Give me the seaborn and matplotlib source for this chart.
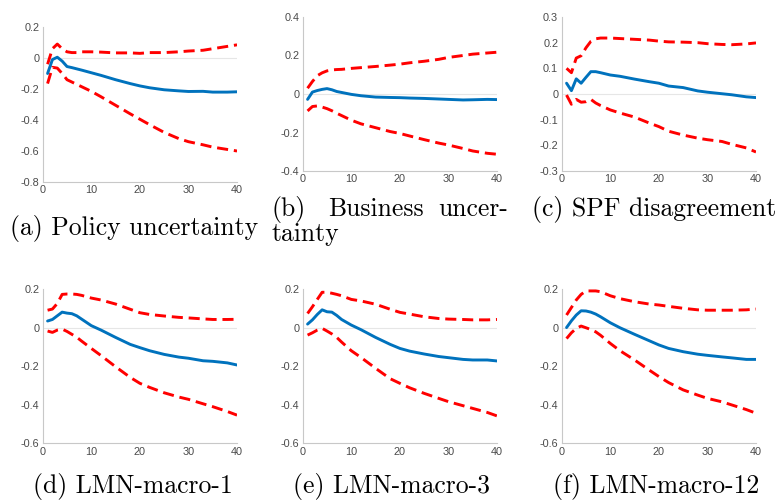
import numpy as np
import pandas as pd
import matplotlib
matplotlib.use("Agg")
import matplotlib.pyplot as plt
import seaborn as sns

# ---------------- data ----------------
horizon = [1, 2, 3, 4, 5, 6, 7, 8, 10, 12, 15, 18, 20, 22, 25, 28, 30, 33, 35, 38, 40]

a_irf = [-0.10, -0.01, 0.005, -0.02, -0.055, -0.062, -0.07, -0.078, -0.095, -0.112, -0.14, -0.165, -0.18, -0.192, -0.205, -0.212, -0.216, -0.215, -0.22, -0.22, -0.218]
a_hi = [-0.04, 0.06, 0.09, 0.06, 0.04, 0.035, 0.035, 0.04, 0.04, 0.038, 0.033, 0.033, 0.03, 0.035, 0.035, 0.04, 0.045, 0.05, 0.06, 0.075, 0.085]
a_lo = [-0.165, -0.06, -0.065, -0.10, -0.14, -0.155, -0.17, -0.185, -0.215, -0.25, -0.305, -0.36, -0.395, -0.43, -0.48, -0.52, -0.54, -0.56, -0.575, -0.59, -0.60]

b_irf = [-0.028, 0.01, 0.018, 0.024, 0.028, 0.022, 0.013, 0.008, -0.002, -0.009, -0.016, -0.018, -0.019, -0.021, -0.023, -0.026, -0.028, -0.031, -0.03, -0.028, -0.029]
b_hi = [0.03, 0.065, 0.095, 0.11, 0.12, 0.125, 0.127, 0.128, 0.133, 0.137, 0.143, 0.15, 0.155, 0.162, 0.17, 0.18, 0.19, 0.20, 0.207, 0.213, 0.217]
b_lo = [-0.088, -0.065, -0.062, -0.068, -0.076, -0.087, -0.10, -0.112, -0.136, -0.155, -0.175, -0.195, -0.205, -0.218, -0.237, -0.255, -0.265, -0.283, -0.296, -0.308, -0.313]

c_irf = [0.042, 0.013, 0.059, 0.042, 0.065, 0.087, 0.087, 0.083, 0.074, 0.069, 0.058, 0.048, 0.042, 0.031, 0.025, 0.012, 0.007, 0.001, -0.003, -0.011, -0.014]
c_hi = [0.10, 0.083, 0.14, 0.149, 0.18, 0.205, 0.215, 0.218, 0.218, 0.216, 0.213, 0.21, 0.206, 0.203, 0.202, 0.20, 0.196, 0.193, 0.192, 0.195, 0.199]
c_lo = [-0.004, -0.04, -0.021, -0.032, -0.03, -0.021, -0.035, -0.045, -0.062, -0.074, -0.09, -0.113, -0.127, -0.145, -0.16, -0.172, -0.178, -0.185, -0.196, -0.21, -0.226]

d_irf = [0.034, 0.042, 0.061, 0.08, 0.075, 0.072, 0.061, 0.044, 0.01, -0.013, -0.051, -0.087, -0.104, -0.12, -0.139, -0.153, -0.159, -0.172, -0.175, -0.183, -0.194]
d_hi = [0.09, 0.096, 0.125, 0.172, 0.174, 0.174, 0.172, 0.167, 0.153, 0.143, 0.122, 0.095, 0.077, 0.068, 0.06, 0.053, 0.05, 0.045, 0.042, 0.042, 0.043]
d_lo = [-0.018, -0.025, -0.013, -0.008, -0.02, -0.035, -0.05, -0.07, -0.108, -0.145, -0.203, -0.258, -0.289, -0.31, -0.338, -0.36, -0.372, -0.395, -0.41, -0.435, -0.454]

e_irf = [0.018, 0.04, 0.068, 0.092, 0.082, 0.08, 0.063, 0.042, 0.013, -0.011, -0.051, -0.087, -0.108, -0.122, -0.137, -0.15, -0.156, -0.165, -0.168, -0.168, -0.173]
e_hi = [0.073, 0.108, 0.146, 0.183, 0.183, 0.178, 0.172, 0.165, 0.146, 0.138, 0.121, 0.095, 0.079, 0.07, 0.056, 0.047, 0.044, 0.042, 0.04, 0.04, 0.042]
e_lo = [-0.039, -0.027, -0.013, -0.004, -0.018, -0.033, -0.051, -0.075, -0.12, -0.155, -0.211, -0.265, -0.289, -0.312, -0.341, -0.367, -0.384, -0.405, -0.419, -0.44, -0.458]

f_irf = [0.0, 0.035, 0.065, 0.087, 0.086, 0.08, 0.07, 0.056, 0.025, -0.001, -0.035, -0.068, -0.09, -0.108, -0.125, -0.138, -0.144, -0.152, -0.157, -0.165, -0.165]
f_hi = [0.065, 0.104, 0.143, 0.172, 0.19, 0.19, 0.19, 0.186, 0.165, 0.15, 0.134, 0.122, 0.117, 0.11, 0.10, 0.092, 0.09, 0.09, 0.09, 0.092, 0.096]
f_lo = [-0.057, -0.027, -0.004, 0.008, -0.001, -0.01, -0.022, -0.04, -0.082, -0.12, -0.168, -0.22, -0.254, -0.285, -0.323, -0.35, -0.367, -0.385, -0.401, -0.425, -0.444]

x_ticks = [0, 10, 20, 30, 40]
a_yticks = [-0.8, -0.6, -0.4, -0.2, 0, 0.2]
b_yticks = [-0.4, -0.2, 0, 0.2, 0.4]
c_yticks = [-0.3, -0.2, -0.1, 0, 0.1, 0.2, 0.3]
def_yticks = [-0.6, -0.4, -0.2, 0, 0.2]

# ---------------- style ----------------
sns.set_theme(style="white")
plt.rcParams["font.family"] = ["Liberation Sans", "DejaVu Sans"]

BLUE = "#0072BD"
RED = "#FF0000"
AXC = "#c8c8c8"
TXT = "#4a4a4a"

fig = plt.figure(figsize=(7.81, 5.04), dpi=100)

W = 0.2488
rects = {
    "a": [0.0547, 0.6389, W, 0.3075],
    "b": [0.3876, 0.6607, W, 0.3056],
    "c": [0.7192, 0.6607, W, 0.3056],
    "d": [0.0547, 0.1204, W, 0.3062],
    "e": [0.3876, 0.1204, W, 0.3062],
    "f": [0.7192, 0.1204, W, 0.3062],
}
panels = {
    "a": (a_irf, a_hi, a_lo, a_yticks),
    "b": (b_irf, b_hi, b_lo, b_yticks),
    "c": (c_irf, c_hi, c_lo, c_yticks),
    "d": (d_irf, d_hi, d_lo, def_yticks),
    "e": (e_irf, e_hi, e_lo, def_yticks),
    "f": (f_irf, f_hi, f_lo, def_yticks),
}

def fmt(v):
    if abs(v) < 1e-9:
        return "0"
    return ("%.1f" % v)

for key, (irf, hi, lo, yt) in panels.items():
    ax = fig.add_axes(rects[key])
    df = pd.DataFrame({"h": horizon, "irf": irf, "hi": hi, "lo": lo})
    ax.axhline(0, color="#e6e6e6", lw=0.8, zorder=0)
    sns.lineplot(data=df, x="h", y="hi", ax=ax, color=RED, lw=2.1,
                 linestyle=(0, (3.8, 2.0)), zorder=3)
    sns.lineplot(data=df, x="h", y="lo", ax=ax, color=RED, lw=2.1,
                 linestyle=(0, (3.8, 2.0)), zorder=3)
    sns.lineplot(data=df, x="h", y="irf", ax=ax, color=BLUE, lw=2.1, zorder=4)
    ax.set_xlim(0, 40)
    ax.set_ylim(yt[0], yt[-1])
    ax.set_xticks(x_ticks)
    ax.set_xticklabels([str(v) for v in x_ticks])
    ax.set_yticks(yt)
    ax.set_yticklabels([fmt(v) for v in yt])
    ax.set_xlabel("")
    ax.set_ylabel("")
    for s in ["top", "right"]:
        ax.spines[s].set_visible(False)
    for s in ["left", "bottom"]:
        ax.spines[s].set_color(AXC)
        ax.spines[s].set_linewidth(0.8)
    ax.tick_params(axis="both", direction="in", length=2, width=0.6,
                   color=AXC, labelsize=7.8, labelcolor=TXT, pad=2.5)
    ax.set_facecolor("white")

# ---------------- captions ----------------
CAP = dict(family="cmr10", fontsize=18.5, color="black", va="baseline")
fig.text(10 / 781, 1 - 235 / 504, "(a) Policy uncertainty", ha="left", **CAP)
fig.text(272 / 781, 1 - 216 / 504, "(b)", ha="left", **CAP)
fig.text(376 / 781, 1 - 216 / 504, "Business", ha="center", **CAP)
fig.text(508 / 781, 1 - 216 / 504, "uncer-", ha="right", **CAP)
fig.text(272 / 781, 1 - 241 / 504, "tainty", ha="left", **CAP)
fig.text(532 / 781, 1 - 216 / 504, "(c) SPF disagreement", ha="left", **CAP)
fig.text(33 / 781, 1 - 493 / 504, "(d) LMN-macro-1", ha="left", **CAP)
fig.text(293 / 781, 1 - 493 / 504, "(e) LMN-macro-3", ha="left", **CAP)
fig.text(553 / 781, 1 - 493 / 504, "(f) LMN-macro-12", ha="left", **CAP)

fig.savefig("out.png", dpi=100, facecolor="white")
